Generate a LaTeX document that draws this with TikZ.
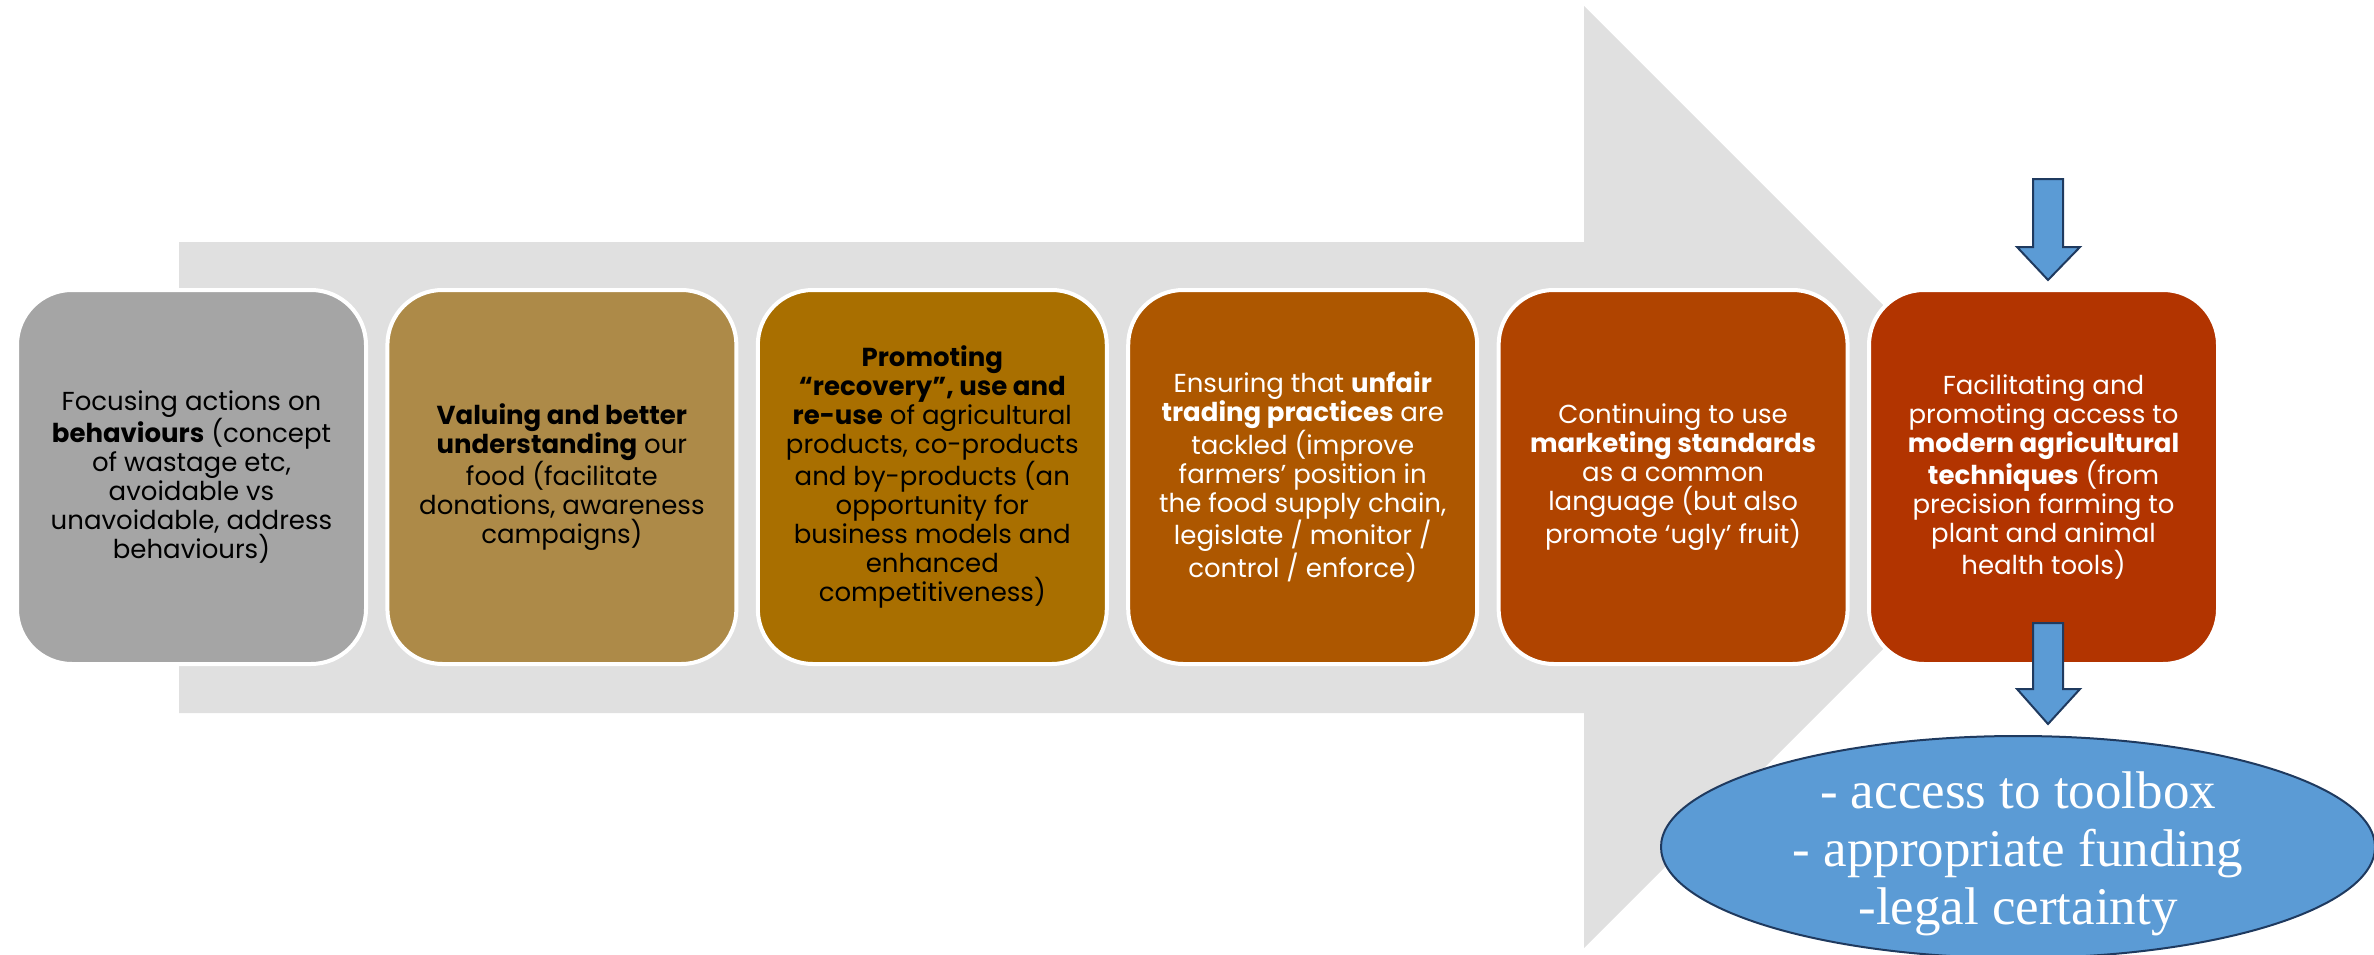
\documentclass[tikz,border=0pt]{standalone}
\usepackage{fontspec}
\setmainfont{Poppins}
\newfontfamily\ovalfont{Liberation Serif}
\usetikzlibrary{shapes.geometric}

\definecolor{arrowgrey}{HTML}{E0E0E0}
\definecolor{stepA}{HTML}{A5A5A5}
\definecolor{stepB}{HTML}{AD8A48}
\definecolor{stepC}{HTML}{A96F00}
\definecolor{stepD}{HTML}{AD5700}
\definecolor{stepE}{HTML}{B04400}
\definecolor{stepF}{HTML}{B23400}
\definecolor{toolblue}{HTML}{5B9BD5}
\definecolor{tooledge}{HTML}{1F3A5F}

\tikzset{
  stepbox/.style={rounded corners=55pt, draw=white, line width=4pt,
    minimum width=349pt, minimum height=374pt, align=center, inner sep=0pt,
    font=\fontsize{26}{29}\selectfont},
  darktext/.style={text=black},
  lighttext/.style={text=white},
  blockdown/.style={fill=toolblue, draw=tooledge, line width=2pt, line join=miter},
}

\begin{document}
\begin{tikzpicture}[x=1pt, y=-1pt]
\useasboundingbox (0,0) rectangle (2374,955);
\clip (0,0) rectangle (2374,955);

% large background arrow
\fill[arrowgrey] (179,242) -- (1584,242) -- (1584,6) -- (2055,477)
  -- (1584,948) -- (1584,713) -- (179,713) -- cycle;

% the six steps
\node[stepbox, fill=stepA, darktext] (s1) at (191.5,477)
  {Focusing actions on\\\textbf{behaviours} (concept\\of wastage etc,\\avoidable vs\\unavoidable, address\\behaviours)};
\node[stepbox, fill=stepB, darktext] (s2) at (561.9,477)
  {\textbf{Valuing and better}\\\textbf{understanding} our\\food (facilitate\\donations, awareness\\campaigns)};
\node[stepbox, fill=stepC, darktext] (s3) at (932.3,477)
  {\textbf{Promoting}\\\textbf{“recovery”, use and}\\\textbf{re-use} of agricultural\\products, co-products\\and by-products (an\\opportunity for\\business models and\\enhanced\\competitiveness)};
\node[stepbox, fill=stepD, lighttext] (s4) at (1302.7,477)
  {Ensuring that \textbf{unfair}\\\textbf{trading practices} are\\tackled (improve\\farmers’ position in\\the food supply chain,\\legislate / monitor /\\control / enforce)};
\node[stepbox, fill=stepE, lighttext] (s5) at (1673.1,477)
  {Continuing to use\\\textbf{marketing standards}\\as a common\\language (but also\\promote ‘ugly’ fruit)};
\node[stepbox, fill=stepF, lighttext] (s6) at (2043.5,477)
  {Facilitating and\\promoting access to\\\textbf{modern agricultural}\\\textbf{techniques} (from\\precision farming to\\plant and animal\\health tools)};

% outcome oval and its text
\node[ellipse, fill=toolblue, draw=tooledge, line width=2pt,
  minimum width=714pt, minimum height=222pt, inner sep=0pt]
  (tools) at (2018,847) {};
\node[text=white, align=center, inner sep=0pt,
  font=\ovalfont\fontsize{53}{58}\selectfont]
  (toolstext) at ([yshift=-7pt]tools.center)
  {- access to toolbox\\- appropriate funding\\-legal certainty};

% block arrows into and out of the last step
\draw[blockdown] (2033,179) -- (2063,179) -- (2063,247) -- (2080,247)
  -- (2048,280) -- (2017,247) -- (2033,247) -- cycle;
\draw[blockdown] (2033,623) -- (2063,623) -- (2063,689) -- (2080,689)
  -- (2048,724) -- (2017,689) -- (2033,689) -- cycle;
\end{tikzpicture}
\end{document}
